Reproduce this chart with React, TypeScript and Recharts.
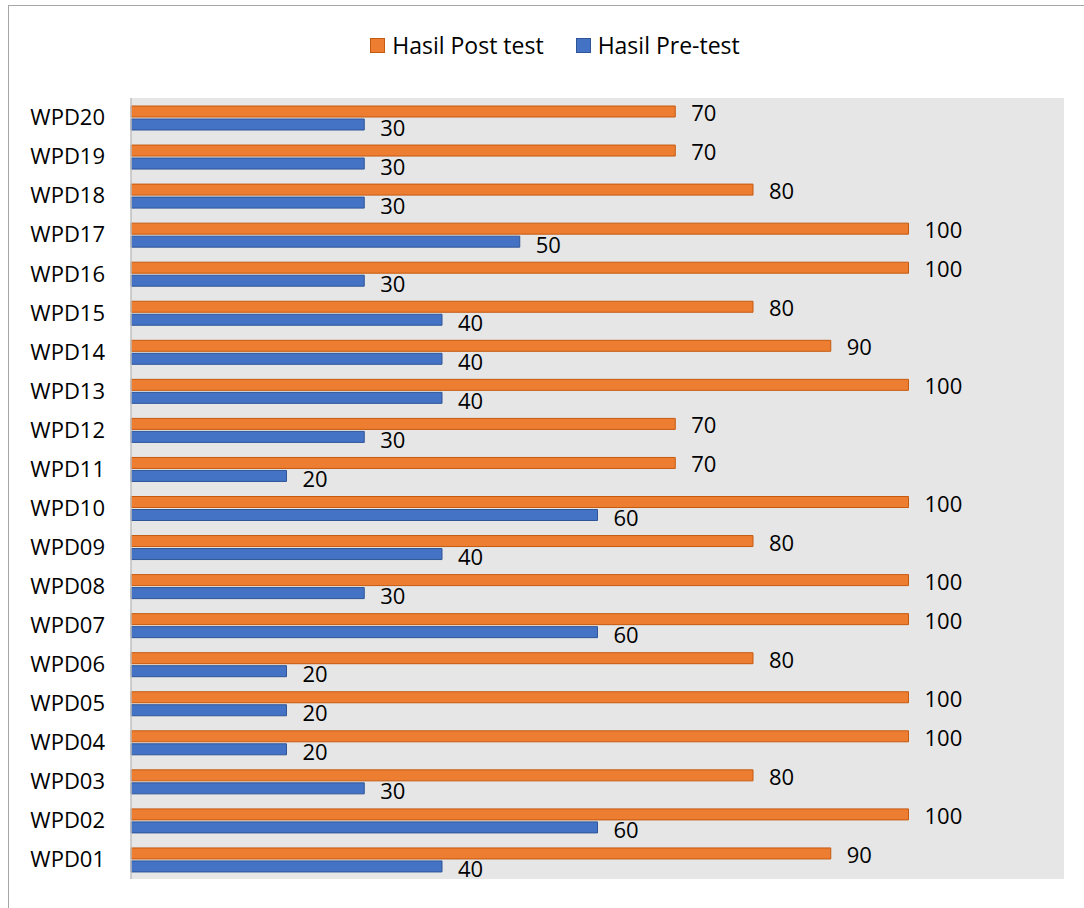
import React from "react";
import { BarChart, Bar, XAxis, YAxis, CartesianGrid, Legend, LabelList } from "recharts";

const categories = ["WPD01","WPD02","WPD03","WPD04","WPD05","WPD06","WPD07","WPD08","WPD09","WPD10","WPD11","WPD12","WPD13","WPD14","WPD15","WPD16","WPD17","WPD18","WPD19","WPD20"];
const postTest = [90,100,80,100,100,80,100,100,80,100,70,70,100,90,80,100,100,80,70,70];
const preTest = [40,60,30,20,20,20,60,30,40,60,20,30,40,40,40,30,50,30,30,30];
const seriesNames = ["Hasil Post test", "Hasil Pre-test"];

const data = categories.map((c, i) => ({ name: c, post: postTest[i], pre: preTest[i] }));

const FONT = "'Open Sans', sans-serif";
const ORANGE = "#ed7d31";
const ORANGE_STROKE = "#c55a11";
const BLUE = "#4472c4";
const BLUE_STROKE = "#2f5597";

const renderLabel = (dyExtra: number) => (props: any) => {
  const { x, y, width, height, value } = props;
  return (
    <text
      x={Number(x) + Number(width) + 16}
      y={Number(y) + Number(height) / 2 + dyExtra}
      dominantBaseline="central"
      fontFamily={FONT}
      fontSize={22}
      fill="#000"
    >
      {value}
    </text>
  );
};

const LegendContent = () => (
  <div style={{ display: "flex", justifyContent: "center", alignItems: "center", fontFamily: FONT, fontSize: 23, color: "#000", paddingLeft: 17 }}>
    <div style={{ display: "flex", alignItems: "center", marginRight: 32 }}>
      <span style={{ width: 13, height: 13, background: ORANGE, border: `1px solid ${ORANGE_STROKE}`, marginRight: 7, display: "inline-block" }} />
      <span>{seriesNames[0]}</span>
    </div>
    <div style={{ display: "flex", alignItems: "center" }}>
      <span style={{ width: 13, height: 13, background: BLUE, border: `1px solid ${BLUE_STROKE}`, marginRight: 7, display: "inline-block" }} />
      <span>{seriesNames[1]}</span>
    </div>
  </div>
);

export default function App() {
  return (
    <div
      style={{
        position: "absolute",
        left: 8,
        top: 5,
        width: 1075,
        height: 902,
        borderLeft: "1px solid #a6a6a6",
        borderTop: "1px solid #a6a6a6",
        background: "#fff",
      }}
    >
      <BarChart
        width={1075}
        height={902}
        data={data}
        layout="vertical"
        margin={{ top: 92, right: 20, bottom: 29, left: 0 }}
        barSize={11}
        barGap={2}
      >
        <CartesianGrid fill="#e6e6e6" horizontal={false} vertical={false} stroke="none" />
        <XAxis type="number" domain={[0, 120]} hide />
        <YAxis
          type="category"
          dataKey="name"
          reversed
          width={122}
          tickLine={false}
          axisLine={{ stroke: "#bfbfbf", strokeWidth: 1.5 }}
          tickMargin={20}
          tick={{ fontFamily: FONT, fontSize: 22, fill: "#000" }}
          interval={0}
        />
        <Legend
          layout="horizontal"
          verticalAlign="middle"
          align="center"
          wrapperStyle={{ top: 23, left: 0, width: 1075 }}
          content={<LegendContent />}
        />
        <Bar dataKey="post" name={seriesNames[0]} fill={ORANGE} stroke={ORANGE_STROKE} strokeWidth={1} isAnimationActive={false}>
          <LabelList dataKey="post" content={renderLabel(0.5)} />
        </Bar>
        <Bar dataKey="pre" name={seriesNames[1]} fill={BLUE} stroke={BLUE_STROKE} strokeWidth={1} isAnimationActive={false}>
          <LabelList dataKey="pre" content={renderLabel(2)} />
        </Bar>
      </BarChart>
    </div>
  );
}
